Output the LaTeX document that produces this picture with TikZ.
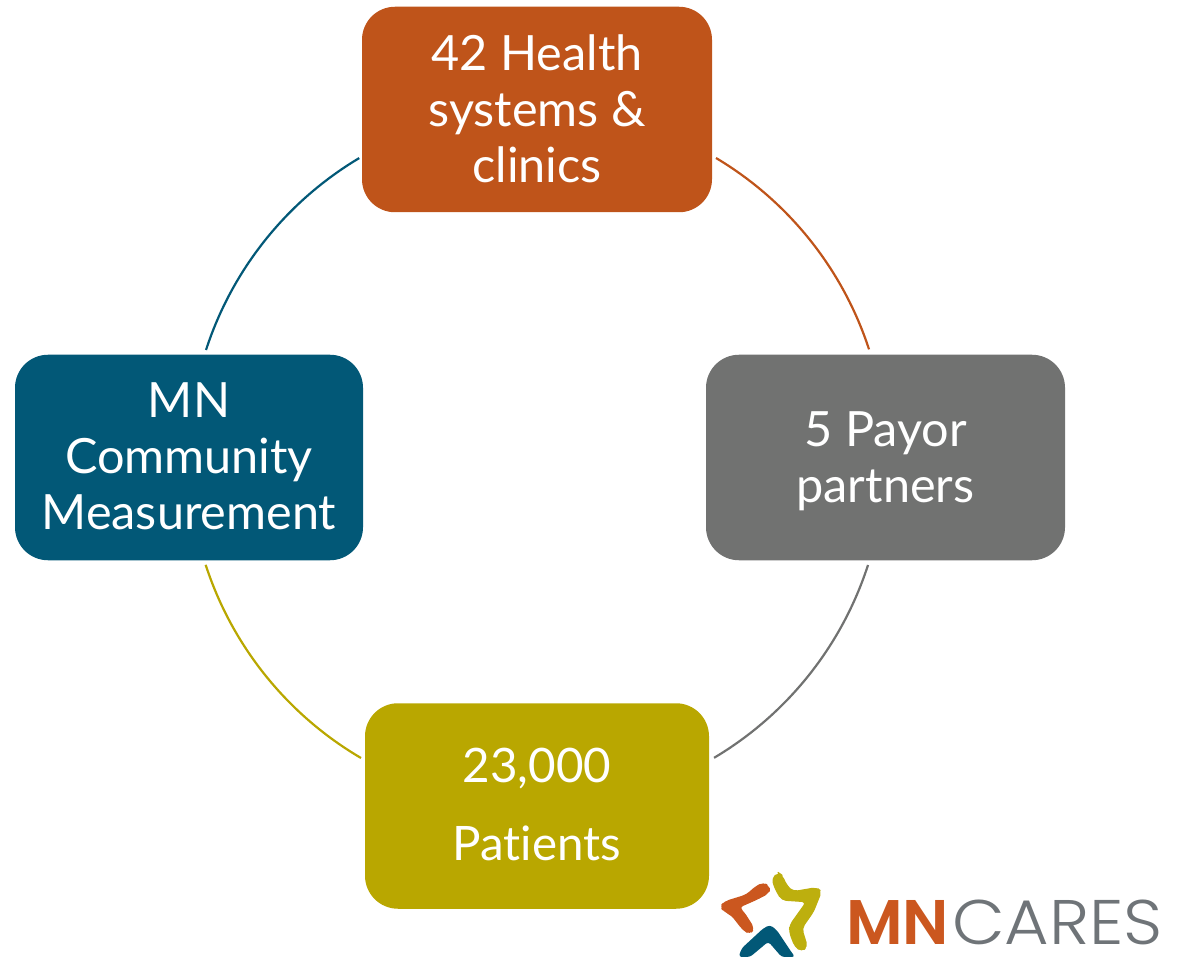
\documentclass[tikz,border=0pt]{standalone}
\usepackage{fontspec}
\setmainfont{Lato}[Ligatures=NoCommon]
\newfontfamily\logobold{Poppins SemiBold}
\newfontfamily\logolight{Poppins Light}
\definecolor{cOrange}{HTML}{BF541A}
\definecolor{cGray}{HTML}{717271}
\definecolor{cOlive}{HTML}{B9A700}
\definecolor{cBlue}{HTML}{025877}
\definecolor{lOrange}{HTML}{CB571F}
\definecolor{lOlive}{HTML}{BDAF0E}
\definecolor{lGray}{HTML}{6F7478}
\tikzset{
  x=1pt,y=-1pt,
  box/.style={rounded corners=33pt,minimum width=#1,inner sep=0pt,minimum height=205.5pt},
  lbl/.style={inner sep=0pt,text=white,align=center,font=\fontsize{48.6}{56}\selectfont},
  link/.style={line width=2.2pt},
  logoshape/.style={rounded corners=4.5pt,line width=1.2pt,line join=round},
  logotext/.style={inner sep=0pt,anchor=base west},
}
\begin{document}
\begin{tikzpicture}
\useasboundingbox (0,0) rectangle (1178,957);
\node[box=350pt,fill=cOrange] (top) at (537,109.5) {};
\node[box=359pt,fill=cGray] (right) at (885.5,457.5) {};
\node[box=344pt,fill=cOlive] (bottom) at (537,806) {};
\node[box=348pt,fill=cBlue] (left) at (189,457.5) {};
\node[lbl] (toptext) at (537,108.5) {42 Health\\systems \&\\clinics};
\node[lbl] (righttext) at (885.5,461) {5 Payor\\partners};
\node[lbl,font=\fontsize{47.5}{78}\selectfont] (bottomtext) at (537,804.5) {23,000\\Patients};
\node[lbl] (lefttext) at (189,456.5) {MN\\Community\\Measurement};
\coordinate (a1) at (716,158);
\coordinate (a2) at (868,565);
\coordinate (a3) at (361,758);
\coordinate (a4) at (206,350);
\draw[link,cOrange] (a1) arc[start angle=59.2,end angle=18.1,radius=349pt];
\draw[link,cGray] (a2) arc[start angle=-17.9,end angle=-59.3,radius=349pt];
\draw[link,cOlive] (a3) arc[start angle=-120.4,end angle=-162,radius=349pt];
\draw[link,cBlue] (a4) arc[start angle=162,end angle=120.8,radius=349pt];
\begin{scope}[shift={(700,850)},x=0.3333pt,y=-0.3333pt]
\filldraw[lOrange,logoshape] (208,110)--(190,98)--(165,112)--(140,135)--(75,155)--(60,170)--(75,185)--(95,195)--(130,240)--(150,252)--(162,235)--(130,185)--(115,172)--(170,148)--(208,128)--cycle;
\filldraw[lOlive,logoshape] (235,68)--(216,85)--(225,115)--(245,150)--(320,155)--(270,225)--(268,245)--(285,290)--(305,304)--(322,290)--(305,235)--(340,185)--(364,125)--(350,113)--(280,125)--(262,110)--(245,75)--cycle;
\fill[cBlue,rounded corners=3pt] (210,225)--(190,235)--(125,295)--(116,321)--(150,321)--(205,275)--(245,321)--(285,321)--(270,300)--(230,240)--cycle;
\end{scope}
\node[logotext,text=lOrange,font=\logobold\fontsize{63}{63}\selectfont] (mn) at (846,944) {MN};
\node[logotext,text=lGray,font=\logolight\fontsize{63}{63}\selectfont] (cares) at (952,944) {\scalebox{1.085}[1]{CARES}};
\end{tikzpicture}
\end{document}
